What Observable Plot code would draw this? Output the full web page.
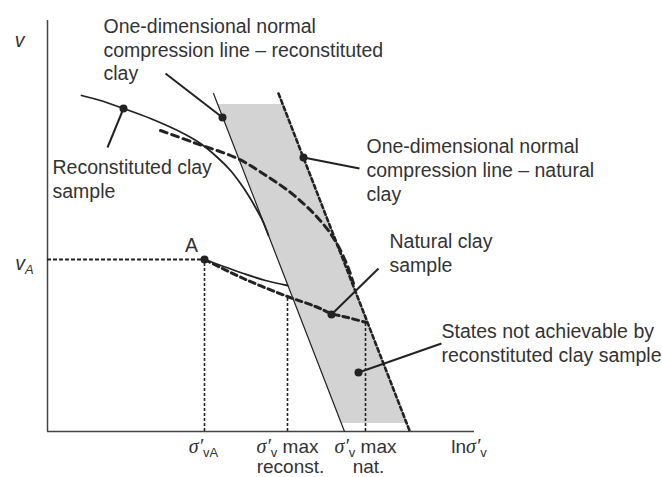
<!DOCTYPE html>
<html><head><meta charset="utf-8">
<script src="https://cdn.jsdelivr.net/npm/d3@7"></script>
<script src="https://cdn.jsdelivr.net/npm/@observablehq/plot@0.6"></script>
<style>body{margin:0;background:#fff}</style>
</head><body><div id="chart"></div>
<script>
// Schematic units: x = ln σ'v, y = specific volume v
const xDomain = [0, 42.7];
const yDomain = [0, 41.1];

// Normal compression lines
const nclReconst = [[16.6, 33.8], [29.7, 0]];
const nclNatural = [[23.1, 33.8], [36.2, 0.1]];

// Shaded region (states not achievable by reconstituted clay)
const shadeY = [32.7, 0.8];
const shadeLeft = [17.03, 29.39];
const shadeRight = [23.5, 35.9];

// Sample curves
const reconstSample = [[3.4,33.6],[5.3,33.1],[7.6,32.3],[10.3,31.3],[13.6,29.8],[15.3,28.8],[17.0,27.4],[18.3,26.1],[19.3,24.8],[20.1,23.6],[20.8,22.4],[21.5,21.1],[22.1,19.6]];
const naturalSample = [[11.3,30.1],[14.6,28.9],[19.0,27.3],[22.0,25.5],[24.3,23.9],[25.8,22.6],[27.0,21.4],[28.3,19.8],[29.3,18.1],[30.1,16.3],[30.6,14.8]];
const fromAReconst = [[15.7,17.2],[19.6,15.8],[21.8,15.1],[24.0,14.6]];
const fromANatural = [[15.7,17.2],[19.6,15.3],[24.0,13.5],[26.8,12.5],[28.4,11.8],[30.0,11.4],[31.9,10.9]];

// Guide lines
const vA = 17.2;
const sigmaVA = 15.7;
const guidesV = [{x:15.7, top:17.2}, {x:24.0, top:13.5}, {x:31.8, top:10.9}];

// Leader lines and dots
const leaders = [
  {x1:11.8, y1:35.8, x2:17.5, y2:31.4},
  {x1:6.0,  y1:28.4, x2:7.6,  y2:32.3},
  {x1:31.2, y1:26.3, x2:25.6, y2:27.4},
  {x1:33.1, y1:16.3, x2:28.4, y2:11.7},
  {x1:39.4, y1:8.8,  x2:31.1, y2:5.9}
];
const dots = [[17.5,31.4],[7.6,32.3],[25.6,27.4],[28.4,11.7],[31.1,5.9],[15.7,17.2]];

// Text  ("|" separates segments; prefix * = italic serif, / = italic, _ = subscript, # = new line)
const labels = [
  {x:5.6,  y:38.25, text:"One-dimensional normal\ncompression line – reconstituted\nclay"},
  {x:0.5,  y:25.3,  text:"Reconstituted clay\nsample"},
  {x:31.9, y:26.2,  text:"One-dimensional normal\ncompression line – natural\nclay"},
  {x:34.2, y:17.95, text:"Natural clay\nsample"},
  {x:39.4, y:8.9,   text:"States not achievable by\nreconstituted clay sample"}
];
const pointLabelA = [{x:14.4, y:18.6, text:"A"}];
const xTickLabels = [
  {x:15.6,  y:-1.5, text:"*σ′|_vA"},
  {x:24.0,  y:-1.5, text:"*σ′|_v| max|#reconst."},
  {x:31.8,  y:-1.5, text:"*σ′|_v| max|#nat."},
  {x:42.15, y:-1.5, text:"ln|*σ′|_v"}
];
const yLabels = [{x:-2.8, y:39.1, text:"/v"}, {x:-2.3, y:16.8, text:"/v|_/A"}];

const ink = "#222";
const txt = "#333";
const serif = "Liberation Serif, Times New Roman, serif";

const chart = Plot.plot({
  width: 662, height: 477,
  marginLeft: 47, marginRight: 188, marginTop: 20, marginBottom: 46,
  x: {domain: xDomain, axis: null},
  y: {domain: yDomain, axis: null},
  style: {fontFamily: "Liberation Sans, Arial, sans-serif", background: "#fff"},
  marks: [
    Plot.areaX(shadeY.map((y, i) => ({y, x1: shadeLeft[i], x2: shadeRight[i]})), {y:"y", x1:"x1", x2:"x2", fill:"#d3d3d3"}),
    Plot.ruleX([0], {y1:0, y2:yDomain[1], stroke:"#444", strokeWidth:1.5}),
    Plot.ruleY([0], {x1:0, x2:xDomain[1], stroke:"#444", strokeWidth:1.5}),
    Plot.ruleY([vA], {x1:0, x2:sigmaVA, stroke:ink, strokeWidth:2, strokeDasharray:"4,2"}),
    Plot.ruleX(guidesV, {x:"x", y1:0, y2:"top", stroke:ink, strokeWidth:1.6, strokeDasharray:"3,2"}),
    Plot.line(nclReconst, {stroke:ink, strokeWidth:1.2}),
    Plot.line(nclNatural, {stroke:ink, strokeWidth:2.6, strokeDasharray:"4,3"}),
    Plot.line(reconstSample, {stroke:ink, strokeWidth:1.8, curve:"catmull-rom"}),
    Plot.line(naturalSample, {stroke:ink, strokeWidth:3, strokeDasharray:"7,5", curve:"catmull-rom"}),
    Plot.line(fromAReconst, {stroke:ink, strokeWidth:1.8, curve:"catmull-rom"}),
    Plot.line(fromANatural, {stroke:ink, strokeWidth:3, strokeDasharray:"6,4", curve:"catmull-rom"}),
    Plot.link(leaders, {x1:"x1", y1:"y1", x2:"x2", y2:"y2", stroke:ink, strokeWidth:2}),
    Plot.dot(dots, {r:4, fill:ink, stroke:null}),
    Plot.text(labels, {x:"x", y:"y", text:"text", textAnchor:"start", lineAnchor:"middle", lineHeight:1.22, fontSize:19.5, fill:txt}),
    Plot.text(pointLabelA, {x:"x", y:"y", text:"text", fontSize:19.5, fill:txt}),
    Plot.text(xTickLabels, {x:"x", y:"y", text:"text", fontSize:19, fill:txt}),
    Plot.text(yLabels, {x:"x", y:"y", text:"text", fontSize:19.5, fill:txt})
  ]
});

// Turn segment markup into tspans (italic / subscript / new line), keeping real text
const NS = "http://www.w3.org/2000/svg";
chart.querySelectorAll("text").forEach(t => {
  const s = t.textContent;
  if (!/[|*_#]/.test(s) && !s.startsWith("/")) return;
  while (t.firstChild) t.removeChild(t.firstChild);
  let shift = 0;
  for (const seg of s.split("|")) {
    const m = seg.match(/^([*\/_#]*)(.*)$/);
    const flags = m[1], str = m[2];
    const ts = document.createElementNS(NS, "tspan");
    const sub = flags.includes("_");
    const want = sub ? 4 : 0;
    if (flags.includes("#")) {
      ts.setAttribute("x", t.getAttribute("x") || 0);
      ts.setAttribute("dx", 3);
      ts.setAttribute("dy", 20.5 + want - shift);
    } else if (want !== shift) ts.setAttribute("dy", want - shift);
    shift = want;
    if (sub) ts.setAttribute("font-size", 13);
    if (flags.includes("*")) { ts.setAttribute("font-style", "italic"); ts.setAttribute("font-family", serif); ts.setAttribute("font-size", 20); }
    if (flags.includes("/")) ts.setAttribute("font-style", "italic");
    ts.textContent = str;
    t.appendChild(ts);
  }
});
document.getElementById("chart").appendChild(chart);
</script>
</body></html>
